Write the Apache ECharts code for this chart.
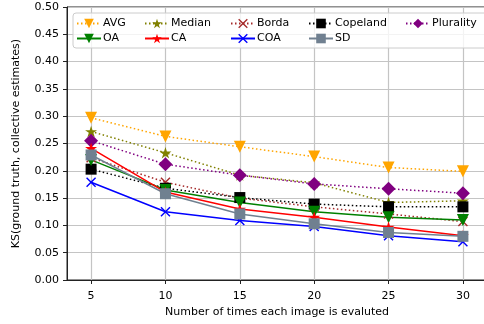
<!DOCTYPE html>
<html>
<head>
<meta charset="utf-8">
<script src="https://cdn.jsdelivr.net/npm/echarts@6/dist/echarts.min.js"></script>
<style>
  html, body { margin: 0; padding: 0; background: #fff; }
  #chart { width: 484px; height: 324px; }
</style>
</head>
<body>
<div id="chart"></div>
<script>
// Number of evaluations per image
const evals = [5, 10, 15, 20, 25, 30];
const xTicks = [5, 10, 15, 20, 25, 30];

// KS distance between ground truth and collective estimates, per method
const avg       = [0.297, 0.263, 0.244, 0.226, 0.206, 0.199];
const median    = [0.272, 0.233, 0.192, 0.178, 0.142, 0.145];
const borda     = [0.224, 0.179, 0.150, 0.134, 0.121, 0.107];
const copeland  = [0.203, 0.168, 0.151, 0.139, 0.134, 0.134];
const plurality = [0.255, 0.212, 0.192, 0.176, 0.167, 0.159];
const oa        = [0.220, 0.165, 0.142, 0.125, 0.115, 0.110];
const ca        = [0.241, 0.161, 0.130, 0.115, 0.097, 0.081];
const coa       = [0.179, 0.125, 0.109, 0.098, 0.081, 0.070];
const sd        = [0.229, 0.158, 0.121, 0.103, 0.087, 0.080];

const FONT = 'DejaVu Sans';
const STAR = 'path://M50,0 L61.23,34.55 L97.55,34.55 L68.17,55.9 L79.39,90.45 L50,69.1 L20.61,90.45 L31.83,55.9 L2.45,34.55 L38.77,34.55 Z';
const CROSS = 'path://M0,10 L10,0 L50,40 L90,0 L100,10 L60,50 L100,90 L90,100 L50,60 L10,100 L0,90 L40,50 Z';

function pairs(vals) { return evals.map((x, i) => [x, vals[i]]); }

function line(name, vals, color, dashed, symbol, size, rotate) {
  return {
    name: name,
    type: 'line',
    data: pairs(vals),
    symbol: symbol,
    symbolSize: size,
    symbolRotate: rotate || 0,
    symbolKeepAspect: true,
    showSymbol: true,
    lineStyle: { color: color, width: 1.5, type: dashed ? [1.5, 2.5] : 'solid', cap: 'butt' },
    itemStyle: { color: color, borderWidth: 0 },
    emphasis: { disabled: true },
    z: 3
  };
}

const series = [
  line('AVG', avg, '#ffa500', true, 'triangle', 12, 180),
  line('Median', median, '#808000', true, STAR, 12),
  line('Borda', borda, '#a52a2a', true, CROSS, 10),
  line('Copeland', copeland, '#000000', true, 'rect', 11),
  line('Plurality', plurality, '#800080', true, 'diamond', 14),
  line('OA', oa, '#008000', false, 'triangle', 12, 180),
  line('CA', ca, '#ff0000', false, STAR, 12),
  line('COA', coa, '#0000ff', false, CROSS, 10),
  line('SD', sd, '#708090', false, 'rect', 11)
];

// legend laid out as five aligned columns of two entries
const legendCols = [
  [['AVG', 'OA'], 76],
  [['Median', 'CA'], 144],
  [['Borda', 'COA'], 230],
  [['Copeland', 'SD'], 308],
  [['Plurality'], 405]
];
const legends = legendCols.map(([names, left]) => ({
  data: names,
  orient: 'vertical',
  left: left,
  top: 18,
  itemGap: 4,
  itemWidth: 24,
  itemHeight: 12,
  padding: 0,
  selectedMode: false,
  textStyle: { fontFamily: FONT, fontSize: 11, color: '#000', padding: [0, 0, 0, -3] }
}));

const chart = echarts.init(document.getElementById('chart'), null, { renderer: 'canvas' });
chart.setOption({
  animation: false,
  backgroundColor: '#fff',
  grid: {
    left: 67, width: 420, top: 7, bottom: 44,
    outerBoundsMode: 'none',
    containLabel: false,
    show: true, borderColor: '#222', borderWidth: 1, backgroundColor: '#fff'
  },
  legend: legends,
  graphic: [{
    type: 'rect',
    shape: { x: 73, y: 13, width: 430, height: 35, r: 3 },
    style: { fill: 'rgba(255,255,255,0.8)', stroke: '#cccccc', lineWidth: 1 },
    z: 3
  }],
  xAxis: {
    type: 'value',
    min: 3.38,
    max: 31.62,
    name: 'Number of times each image is evaluted',
    nameLocation: 'middle',
    nameGap: 27,
    nameTextStyle: { fontFamily: FONT, fontSize: 11, color: '#000', verticalAlign: 'top' },
    axisLine: { show: true, lineStyle: { color: '#222', width: 1 } },
    axisTick: { show: true, inside: false, length: 4, customValues: xTicks, lineStyle: { color: '#222' } },
    axisLabel: { customValues: xTicks, margin: 11, fontFamily: FONT, fontSize: 11, color: '#000' },
    splitLine: { show: true, customValues: xTicks, lineStyle: { color: '#c4c4c4', width: 1.2 } }
  },
  yAxis: {
    type: 'value',
    min: 0,
    max: 0.5,
    interval: 0.05,
    name: 'KS(ground truth, collective estimates)',
    nameLocation: 'middle',
    nameGap: 45,
    nameTextStyle: { fontFamily: FONT, fontSize: 11, color: '#000' },
    axisLine: { show: true, lineStyle: { color: '#222', width: 1 } },
    axisTick: { show: true, inside: false, length: 4, lineStyle: { color: '#222' } },
    axisLabel: { margin: 8, fontFamily: FONT, fontSize: 11, color: '#000', formatter: v => v.toFixed(2) },
    splitLine: { show: true, lineStyle: { color: '#c4c4c4', width: 1.2 } }
  },
  series: series
});
</script>
</body>
</html>
